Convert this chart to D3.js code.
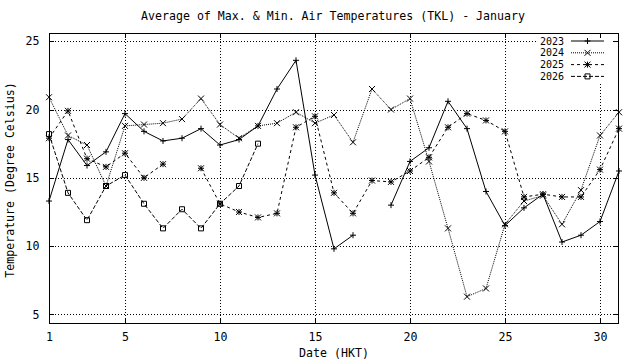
<!DOCTYPE html>
<html>
<head>
<meta charset="utf-8">
<script src="https://cdn.jsdelivr.net/npm/d3@7"></script>
<style>
  html, body { margin: 0; padding: 0; background: #fff; }
  svg text { font-family: "DejaVu Sans Mono", "Liberation Mono", monospace; font-size: 11.6px; fill: #000; }
  svg text.key { font-size: 10px; }
</style>
</head>
<body>
<svg id="chart" width="640" height="360"></svg>
<script>
// ---- data ----
const days = [1,2,3,4,5,6,7,8,9,10,11,12,13,14,15,16,17,18,19,20,21,22,23,24,25,26,27,28,29,30,31];
const t2023 = [13.3,17.8,15.9,16.9,19.7,18.4,17.7,17.9,18.6,17.4,17.8,18.8,21.5,23.6,15.2,9.8,10.8,null,13.0,16.2,17.2,20.6,18.6,14.0,11.5,12.8,13.8,10.3,10.8,11.8,15.5];
const t2024 = [20.9,18.1,17.4,14.4,18.8,18.9,19.0,19.3,20.8,18.9,17.9,18.8,19.0,19.8,19.0,19.6,17.6,21.5,20.0,20.8,16.2,11.3,6.3,6.9,11.6,13.3,13.7,11.6,14.1,18.1,19.8];
const t2025 = [17.9,19.9,16.4,15.8,16.8,15.0,16.0,null,15.7,13.1,12.5,12.1,12.4,18.7,19.5,13.9,12.4,14.8,14.7,15.5,16.5,18.7,19.7,19.2,18.4,13.6,13.8,13.6,13.6,15.6,18.6];
const t2026 = [18.2,13.9,11.9,14.4,15.2,13.1,11.3,12.7,11.3,13.1,14.4,17.5,null,null,null,null,null,null,null,null,null,null,null,null,null,null,null,null,null,null,null];
const seriesNames = ["2023","2024","2025","2026"];
const xTicks = [1,5,10,15,20,25,30];
const yTicks = [5,10,15,20,25];
const titleText = "Average of Max. & Min. Air Temperatures (TKL) - January";
const xLabel = "Date (HKT)";
const yLabel = "Temperature (Degree Celsius)";

// ---- layout ----
const L = 49, R = 619, T = 33, B = 324;
const svg = d3.select("#chart");

const series = [
  { name: seriesNames[0], values: t2023, dash: null, marker: "plus" },
  { name: seriesNames[1], values: t2024, dash: "1,1", marker: "times" },
  { name: seriesNames[2], values: t2025, dash: "3,3", marker: "star" },
  { name: seriesNames[3], values: t2026, dash: "4,2", marker: "box" }
];

const all = [].concat(t2023, t2024, t2025, t2026).filter(v => v != null);
const yMin = d3.min(all) - 2, yMax = d3.max(all) + 2;

const x = d3.scaleLinear().domain([1, 31]).range([L, R]);
const y = d3.scaleLinear().domain([yMin, yMax]).range([B, T]);

// grid
const grid = svg.append("g").attr("stroke", "#000").attr("stroke-width", 1)
  .attr("stroke-dasharray", "1,2").attr("shape-rendering", "crispEdges");
xTicks.filter(d => d > 1 && d < 31).forEach(d => {
  grid.append("line").attr("x1", Math.round(x(d)) + 0.5).attr("x2", Math.round(x(d)) + 0.5)
    .attr("y1", T).attr("y2", B);
});
yTicks.forEach(d => {
  grid.append("line").attr("y1", Math.round(y(d)) + 0.5).attr("y2", Math.round(y(d)) + 0.5)
    .attr("x1", L).attr("x2", R);
});

// key background (opaque)
svg.append("rect").attr("x", 536).attr("y", 35).attr("width", 77).attr("height", 48).attr("fill", "#fff");

// axes via d3 axis generators (ticks inward, both sides)
const tickLen = 5;
const axB = svg.append("g").attr("transform", `translate(0,${B + 0.5})`)
  .call(d3.axisBottom(x).tickValues(xTicks).tickSize(0).tickPadding(8).tickFormat(d3.format("d")));
axB.select(".domain").remove();

const axL = svg.append("g").attr("transform", `translate(${L - 0.5},0)`)
  .call(d3.axisLeft(y).tickValues(yTicks).tickSize(0).tickPadding(9).tickFormat(d3.format("d")));
axL.select(".domain").remove();
svg.selectAll(".tick text").attr("fill", "#000");
svg.selectAll("g").filter(function(){ return this.hasAttribute("font-family"); })
  .attr("font-family", null).attr("font-size", null);

const tk = svg.append("g").attr("stroke", "#000").attr("stroke-width", 1).attr("shape-rendering", "crispEdges");
xTicks.forEach(d => {
  const px = Math.round(x(d)) + 0.5;
  tk.append("line").attr("x1", px).attr("x2", px).attr("y1", B).attr("y2", B - tickLen);
  tk.append("line").attr("x1", px).attr("x2", px).attr("y1", T).attr("y2", T + tickLen);
});
yTicks.forEach(d => {
  const py = Math.round(y(d)) + 0.5;
  tk.append("line").attr("x1", L).attr("x2", L + tickLen).attr("y1", py).attr("y2", py);
  tk.append("line").attr("x1", R).attr("x2", R - tickLen).attr("y1", py).attr("y2", py);
});

// markers
function markerPath(type, cx, cy) {
  const s = 3;
  const p = d3.path();
  if (type === "plus" || type === "star") {
    p.moveTo(cx - s, cy); p.lineTo(cx + s, cy);
    p.moveTo(cx, cy - s); p.lineTo(cx, cy + s);
  }
  if (type === "times" || type === "star") {
    p.moveTo(cx - s, cy - s); p.lineTo(cx + s, cy + s);
    p.moveTo(cx - s, cy + s); p.lineTo(cx + s, cy - s);
  }
  if (type === "box") {
    const b = 2.5;
    p.rect(cx - b, cy - b, 2 * b, 2 * b);
  }
  return p.toString();
}

// data lines
const line = d3.line().defined(d => d.v != null).x(d => x(d.day)).y(d => y(d.v));
series.forEach(s => {
  const pts = days.map((d, i) => ({ day: d, v: s.values[i] }));
  svg.append("path").datum(pts).attr("d", line).attr("fill", "none").attr("stroke", "#000")
    .attr("stroke-width", 1).attr("stroke-dasharray", s.dash);
  svg.append("g").selectAll("path").data(pts.filter(p => p.v != null)).join("path")
    .attr("d", p => markerPath(s.marker, x(p.day), y(p.v)))
    .attr("fill", "none").attr("stroke", "#000").attr("stroke-width", 1);
});

// border
svg.append("rect").attr("x", L + 0.5).attr("y", T + 0.5).attr("width", R - L - 1).attr("height", B - T - 1)
  .attr("fill", "none").attr("stroke", "#000").attr("stroke-width", 1).attr("shape-rendering", "crispEdges");

// legend
const key = svg.append("g");
series.forEach((s, i) => {
  const ky = 41 + i * 11.8;
  key.append("text").attr("class", "key").attr("x", 564).attr("y", ky).attr("dy", "0.35em")
    .attr("text-anchor", "end").text(s.name);
  key.append("line").attr("x1", 571).attr("x2", 604).attr("y1", ky).attr("y2", ky)
    .attr("stroke", "#000").attr("stroke-width", 1).attr("stroke-dasharray", s.dash);
  key.append("path").attr("d", markerPath(s.marker, 587.5, ky)).attr("fill", "none").attr("stroke", "#000");
});

// titles
svg.append("text").attr("x", 333).attr("y", 16).attr("dy", "0.35em").attr("text-anchor", "middle").text(titleText);
svg.append("text").attr("x", 334).attr("y", 353).attr("dy", "0.35em").attr("text-anchor", "middle").text(xLabel);
svg.append("text").attr("transform", "translate(10,180) rotate(-90)").attr("dy", "0.35em")
  .attr("text-anchor", "middle").text(yLabel);
</script>
</body>
</html>
